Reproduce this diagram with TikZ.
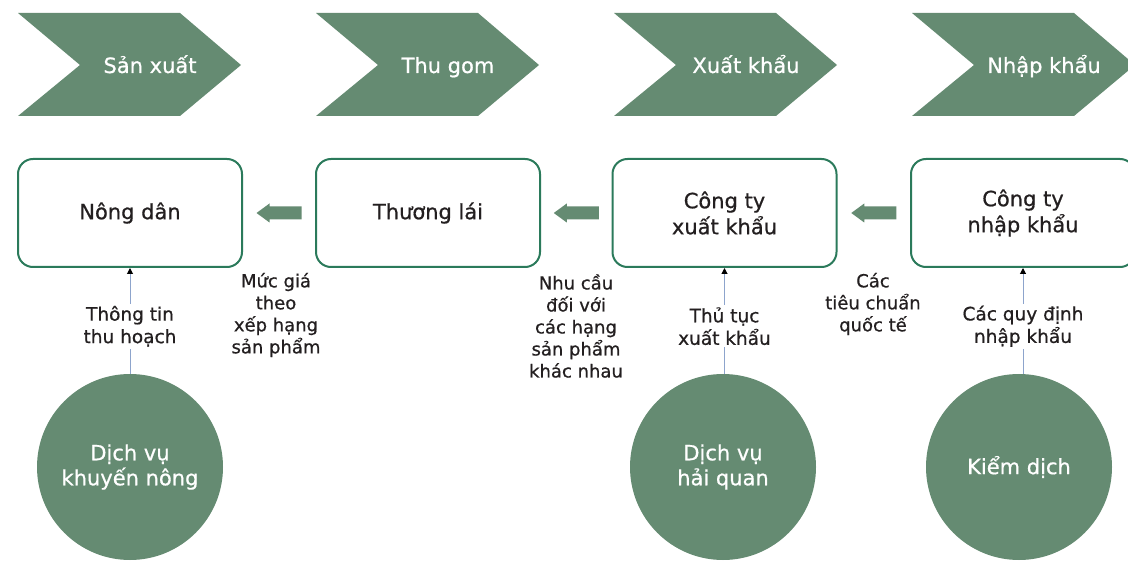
\documentclass[tikz,border=0pt]{standalone}
\usepackage{fontspec}
\setmainfont{DejaVu Sans}[RawFeature={embolden=0.7}]
\usetikzlibrary{arrows.meta,calc}
\definecolor{sage}{HTML}{658B72}
\definecolor{boxline}{HTML}{2B7A5B}
\definecolor{conline}{HTML}{8DA4CC}
\definecolor{txt}{HTML}{231F20}
\begin{document}
\begin{tikzpicture}[x=1pt,y=-1pt,
  chev/.style={fill=sage},
  chevtext/.style={text=white,font=\fontsize{21}{25}\selectfont,anchor=base,inner sep=0pt},
  actor/.style={draw=boxline,line width=2pt,rounded corners=15pt,minimum width=224pt,minimum height=108pt,text=txt,align=center,font=\fontsize{21}{26}\selectfont},
  service/.style={circle,fill=sage,minimum size=186pt,inner sep=0pt,text=white,align=center,font=\fontsize{21}{25}\selectfont},
  flow/.style={fill=sage},
  conn/.style={draw=conline,line width=1pt,-{Triangle[length=6pt,width=6pt,color=black]}},
  lab/.style={fill=white,text=txt,align=center,font=\fontsize{18.5}{22.5}\selectfont,inner sep=2pt},
  sidelab/.style={text=txt,align=center,font=\fontsize{18}{22}\selectfont,inner sep=0pt}
]
\useasboundingbox (0,0) rectangle (1128,561);

% stage chevrons
\foreach \x/\t/\n in {18/Sản xuất/s1, 316/Thu gom/s2, 614/Xuất khẩu/s3, 912/Nhập khẩu/s4} {
  \fill[chev] (\x,13) -- ++(162,0) -- ++(61,52) -- ++(-61,51) -- ++(-162,0) -- ++(62,-51) -- cycle;
  \node[chevtext] (\n) at (\x+132,73) {\t};
}

% actors
\node[actor] (b1) at (130,213) {Nông dân};
\node[actor] (b2) at (428,213) {Thương lái};
\node[actor] (b3) at (724.5,213) {Công ty\\xuất khẩu};
\node[actor] (b4) at (1023,213) {Công ty\\nhập khẩu};

% flow arrows between actors
\path ($(b1.east)!0.5!(b2.west)$) coordinate (m1)
      ($(b2.east)!0.5!(b3.west)$) coordinate (m2)
      ($(b3.east)!0.5!(b4.west)$) coordinate (m3);
\foreach \m in {m1,m2,m3} {
  \fill[flow,shift={(\m)}] (-22.5,0) -- (-9.5,-9.5) -- (-9.5,-6.5) -- (22.5,-6.5) -- (22.5,6.5) -- (-9.5,6.5) -- (-9.5,9.5) -- cycle;
}

% side labels
\node[sidelab] (l1) at (276,315) {Mức giá\\theo\\xếp hạng\\sản phẩm};
\node[sidelab] (l2) at (576,326) {Nhu cầu\\đối với\\các hạng\\sản phẩm\\khác nhau};
\node[sidelab] (l3) at (873,304) {Các\\tiêu chuẩn\\quốc tế};

% services
\node[service] (c1) at (130,467) {Dịch vụ\\khuyến nông};
\node[service] (c2) at (723,467) {Dịch vụ\\hải quan};
\node[service] (c3) at (1019,467) {Kiểm dịch};

% connectors
\draw[conn] (b1.south |- c1.north) -- node[lab,pos=0.45] {Thông tin\\thu hoạch} (b1.south);
\draw[conn] (b3.south |- c2.north) -- node[lab,pos=0.45] {Thủ tục\\xuất khẩu} (b3.south);
\draw[conn] (b4.south |- c3.north) -- node[lab,pos=0.45] {Các quy định\\nhập khẩu} (b4.south);
\end{tikzpicture}
\end{document}
